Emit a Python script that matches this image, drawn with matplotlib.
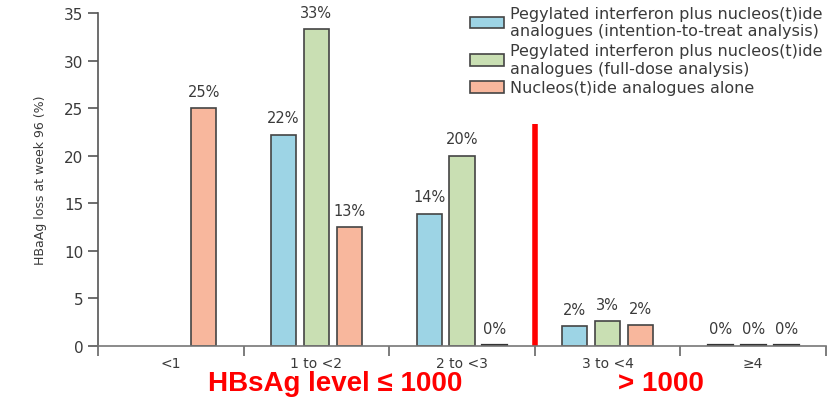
import numpy as np
import matplotlib.pyplot as plt
from matplotlib.patches import Patch

categories = ['<1', '1 to <2', '2 to <3', '3 to <4', '≥4']
itt = [np.nan, 22.2, 13.9, 2.1, 0]
full_dose = [np.nan, 33.3, 20.0, 2.6, 0]
na_alone = [25.0, 12.5, 0, 2.2, 0]
labels = ['Pegylated interferon plus nucleos(t)ide\nanalogues (intention-to-treat analysis)',
          'Pegylated interferon plus nucleos(t)ide\nanalogues (full-dose analysis)',
          'Nucleos(t)ide analogues alone']
colors = ['#9dd4e5', '#c9dfb3', '#f8b79d']
divider_height = 23.3

plt.rcParams['font.family'] = ['DejaVu Sans']
fig = plt.figure(figsize=(8.4, 4.02), dpi=100)
ax = fig.add_axes([0.1167, 0.1368, 0.8666, 0.8284])

x = np.arange(len(categories))
width = 0.172
step = 0.226
txt = '#3a3a3a'
for i, (vals, c) in enumerate(zip([itt, full_dose, na_alone], colors)):
    pos = x + (i - 1) * step
    for p, v in zip(pos, vals):
        if np.isnan(v):
            continue
        if v == 0:
            ax.plot([p - width / 2, p + width / 2], [0.08, 0.08], color='#333333', lw=1.6)
        else:
            ax.bar(p, v, width, color=c, edgecolor='#444444', linewidth=1.2)
        ax.text(p, v + 1.0, f'{int(v + 0.5)}%', ha='center', va='bottom', fontsize=10.5, color=txt)

ax.plot([2.5, 2.5], [0, divider_height], color='red', lw=4, solid_capstyle='butt')

ax.set_xlim(-0.5, 4.5)
ax.set_ylim(0, 35)
ax.set_yticks(range(0, 36, 5))
ax.set_xticks(x)
ax.set_xticklabels(categories)
ax.set_xticks(np.arange(-0.5, 4.6, 1), minor=True)
ax.tick_params(axis='x', which='major', length=0, labelsize=10, labelcolor=txt, pad=7)
ax.tick_params(axis='x', which='minor', length=7, color='#666666', width=1.2)
ax.tick_params(axis='y', length=7, color='#555555', width=1.2, labelsize=11, labelcolor=txt)
for s in ['top', 'right']:
    ax.spines[s].set_visible(False)
ax.spines['left'].set_color('#555555')
ax.spines['bottom'].set_color('#777777')
ax.spines['left'].set_linewidth(1.2)
ax.spines['bottom'].set_linewidth(1.2)
ax.set_ylabel('HBaAg loss at week 96 (%)', fontsize=9, color=txt, labelpad=12)

handles = [Patch(facecolor=c, edgecolor='#444444', linewidth=1.2) for c in colors]
ax.legend(handles, labels, loc='upper left', bbox_to_anchor=(0.4985, 1.05), frameon=False,
          fontsize=11.5, labelcolor=txt, handlelength=2.1, handleheight=0.75,
          handletextpad=0.4, labelspacing=0.3, borderaxespad=0.2)

fig.text(0.399, 0.044, 'HBsAg level ≤ 1000', color='red', fontsize=20, fontweight='bold',
         family=['Liberation Sans', 'DejaVu Sans'], ha='center', va='center')
fig.text(0.787, 0.044, '> 1000', color='red', fontsize=20, fontweight='bold',
         family=['Liberation Sans', 'DejaVu Sans'], ha='center', va='center')

fig.savefig('out.png', dpi=100)
